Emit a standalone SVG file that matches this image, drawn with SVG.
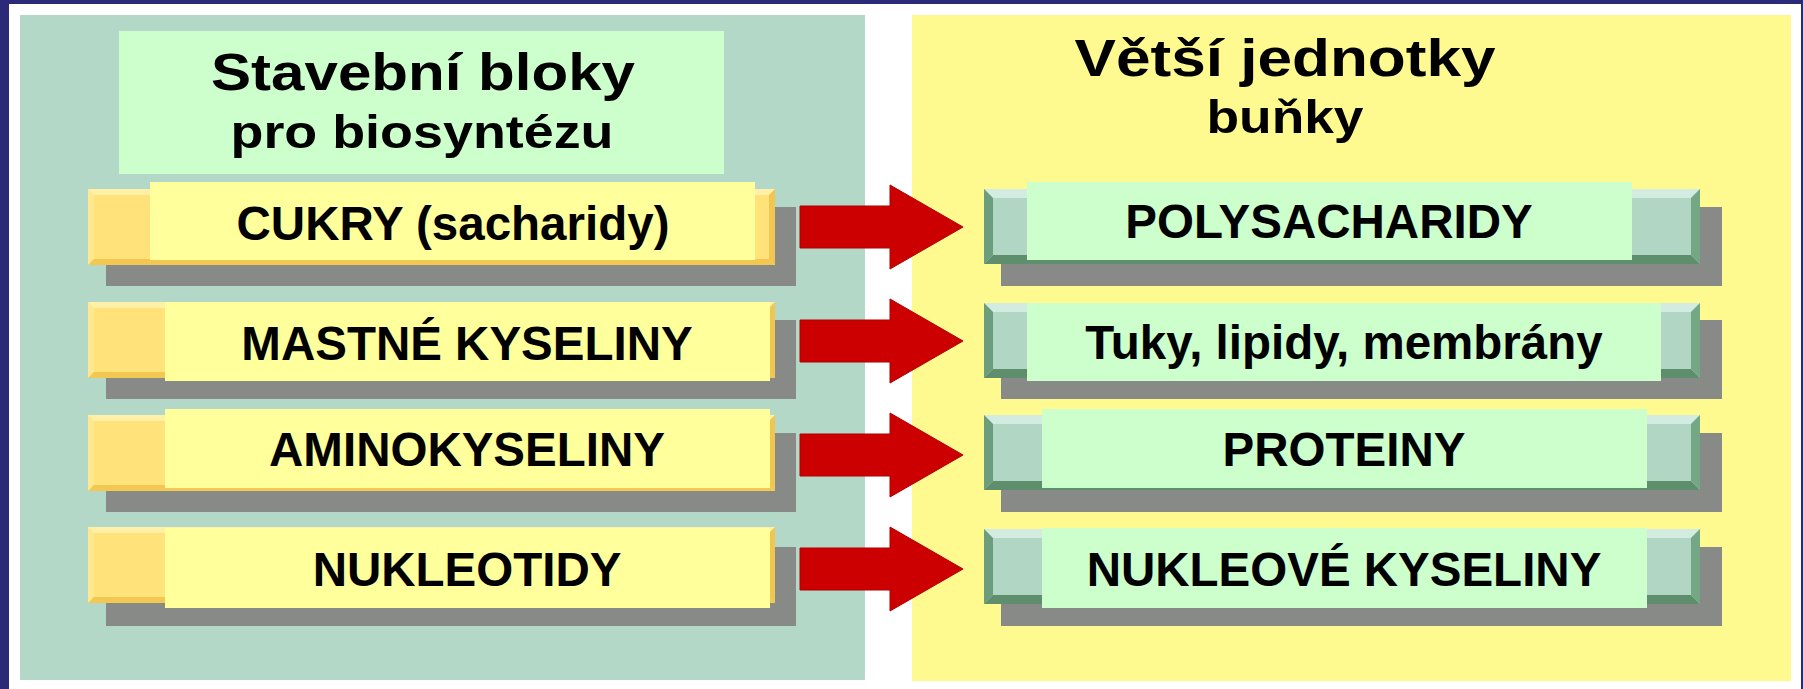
<svg xmlns="http://www.w3.org/2000/svg" xmlns:xlink="http://www.w3.org/1999/xlink" width="1803" height="689" viewBox="0 0 1803 689">
<style>
.txt{font-family:"Liberation Sans",Arial,sans-serif;font-weight:bold;fill:#000;text-anchor:middle}
.item{font-size:47.5px}
.shadow{fill:#888a88}
.faceY{fill:#ffff9c}
.faceG{fill:#ccffcc}
.arrow{fill:#cc0000;stroke:#b00000;stroke-width:1}
</style>
<defs>
<g id="bevelL">
<rect x="0" y="0" width="687" height="76" fill="#ffe279"/>
<polygon points="0,0 687,0 681,6 6,6" fill="#fff0a8"/>
<polygon points="0,0 6,6 6,70 0,76" fill="#ffe890"/>
<polygon points="0,76 687,76 681,70 6,70" fill="#f2c752"/>
<polygon points="687,0 681,6 681,70 687,76" fill="#f0c650"/>
</g>
<g id="bevelR">
<rect x="0" y="0" width="716" height="75" fill="#b1d6c4"/>
<polygon points="0,0 716,0 707,9 9,9" fill="#d3ece1"/>
<polygon points="0,0 9,9 9,66 0,75" fill="#6c9d7c"/>
<polygon points="0,75 716,75 707,66 9,66" fill="#5e8e6b"/>
<polygon points="716,0 707,9 707,66 716,75" fill="#74a884"/>
</g>
</defs>

<!-- background and frame -->
<rect x="0" y="0" width="1803" height="689" fill="#ffffff"/>
<rect x="0" y="0" width="1803" height="4" fill="#2a2a78"/>
<rect x="0" y="0" width="9" height="689" fill="#2a2a78"/>
<rect x="1801" y="0" width="2" height="689" fill="#2a2a78"/>

<!-- panels -->
<rect id="panel-left" x="20" y="15" width="845" height="665" fill="#b3d8c8"/>
<rect id="panel-right" x="912" y="15" width="879" height="666" fill="#fffa90"/>

<!-- left header -->
<g id="header-left">
<rect x="119" y="31" width="605" height="143" class="faceG"/>
<text class="txt" x="423" y="90" font-size="52" textLength="424" lengthAdjust="spacingAndGlyphs">Stavební bloky</text>
<text class="txt" x="422" y="148" font-size="47" textLength="383" lengthAdjust="spacingAndGlyphs">pro biosyntézu</text>
</g>

<!-- right header -->
<g id="header-right">
<text class="txt" x="1285" y="76" font-size="51" textLength="421" lengthAdjust="spacingAndGlyphs">Větší jednotky</text>
<text class="txt" x="1285" y="133" font-size="46" textLength="157" lengthAdjust="spacingAndGlyphs">buňky</text>
</g>

<!-- left nodes -->
<g id="cukry">
<rect x="106" y="207" width="690" height="79" class="shadow"/>
<use xlink:href="#bevelL" x="88" y="189"/>
<rect x="150" y="182" width="605" height="78" class="faceY"/>
<text class="txt item" x="453" y="240">CUKRY (sacharidy)</text>
</g>
<g id="mastne-kyseliny">
<rect x="106" y="320" width="690" height="79" class="shadow"/>
<use xlink:href="#bevelL" x="88" y="302"/>
<rect x="165" y="302" width="605" height="79" class="faceY"/>
<text class="txt item" x="467" y="360">MASTNÉ KYSELINY</text>
</g>
<g id="aminokyseliny">
<rect x="106" y="433" width="690" height="79" class="shadow"/>
<use xlink:href="#bevelL" x="88" y="415"/>
<rect x="165" y="409" width="605" height="79" class="faceY"/>
<text class="txt item" x="467" y="466">AMINOKYSELINY</text>
</g>
<g id="nukleotidy">
<rect x="106" y="547" width="690" height="79" class="shadow"/>
<use xlink:href="#bevelL" x="88" y="527"/>
<rect x="165" y="528" width="605" height="80" class="faceY"/>
<text class="txt item" x="467" y="586">NUKLEOTIDY</text>
</g>

<!-- right nodes -->
<g id="polysacharidy">
<rect x="1001" y="207" width="721" height="79" class="shadow"/>
<use xlink:href="#bevelR" x="984" y="189"/>
<rect x="1027" y="182" width="605" height="78" class="faceG"/>
<text class="txt item" x="1329" y="238">POLYSACHARIDY</text>
</g>
<g id="tuky-lipidy-membrany">
<rect x="1001" y="320" width="721" height="79" class="shadow"/>
<use xlink:href="#bevelR" x="984" y="303"/>
<rect x="1027" y="303" width="634" height="78" class="faceG"/>
<text class="txt item" x="1344" y="359">Tuky, lipidy, membrány</text>
</g>
<g id="proteiny">
<rect x="1001" y="433" width="721" height="79" class="shadow"/>
<use xlink:href="#bevelR" x="984" y="415"/>
<rect x="1042" y="409" width="605" height="79" class="faceG"/>
<text class="txt item" x="1344" y="466">PROTEINY</text>
</g>
<g id="nukleove-kyseliny">
<rect x="1001" y="547" width="721" height="79" class="shadow"/>
<use xlink:href="#bevelR" x="984" y="529"/>
<rect x="1042" y="528" width="605" height="80" class="faceG"/>
<text class="txt item" x="1344" y="586">NUKLEOVÉ KYSELINY</text>
</g>

<!-- connectors -->
<g id="connectors">
<polygon class="arrow" points="800,206 890,206 890,185 963,227 890,269 890,248 800,248"/>
<polygon class="arrow" points="800,320 890,320 890,299 963,341 890,383 890,362 800,362"/>
<polygon class="arrow" points="800,434 890,434 890,413 963,455 890,497 890,476 800,476"/>
<polygon class="arrow" points="800,548 890,548 890,527 963,569 890,611 890,590 800,590"/>
</g>
</svg>
